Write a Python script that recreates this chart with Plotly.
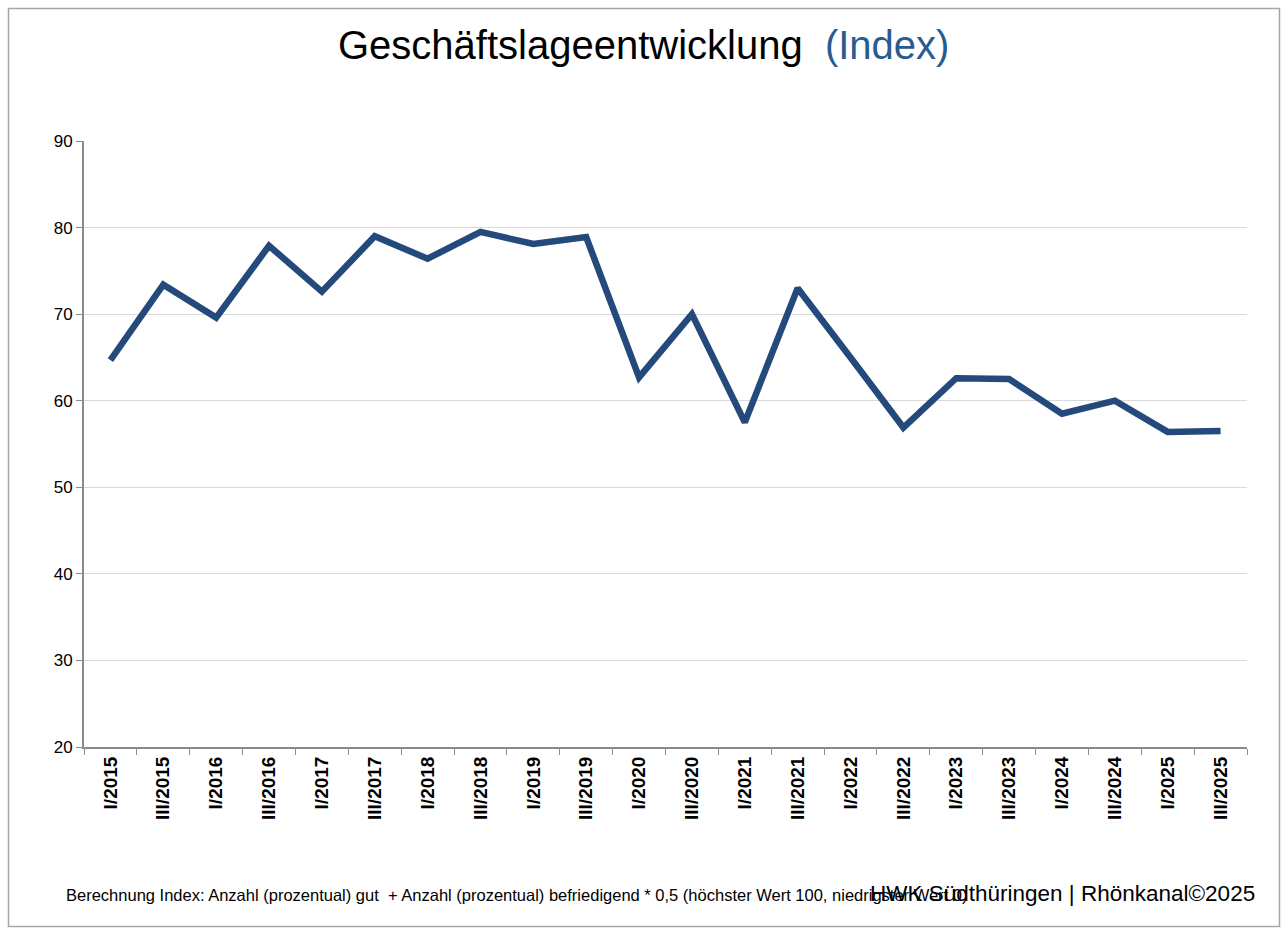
import plotly.graph_objects as go

categories = ["I/2015", "III/2015", "I/2016", "III/2016", "I/2017", "III/2017",
              "I/2018", "III/2018", "I/2019", "III/2019", "I/2020", "III/2020",
              "I/2021", "III/2021", "I/2022", "III/2022", "I/2023", "III/2023",
              "I/2024", "III/2024", "I/2025", "III/2025"]
index_values = [64.7, 73.4, 69.6, 77.9, 72.6, 79.0, 76.4, 79.5, 78.1, 78.9,
                62.7, 70.0, 57.5, 73.0, 65.0, 56.9, 62.6, 62.5, 58.5, 60.0,
                56.4, 56.5]
y_ticks = [20, 30, 40, 50, 60, 70, 80, 90]

# body margin is removed in the page, so screen px == figure px
W, H = 1287, 932
PL, PR, PT, PB = 84, 1247, 141, 747   # plot area in screen px
L, R, T, B = PL, W - PR, PT, H - PB
pw, ph = W - L - R, H - T - B

def px(x):
    return (x - L) / pw

def py(y):
    return (H - B - y) / ph

fig = go.Figure()
fig.add_trace(go.Scatter(
    x=categories, y=index_values, mode="lines",
    line=dict(color="#24497b", width=6.5, shape="linear"),
    hoverinfo="x+y", showlegend=False,
))

fig.update_layout(
    width=W, height=H,
    margin=dict(l=L, r=R, t=T, b=B),
    paper_bgcolor="white", plot_bgcolor="white",
    font=dict(family="Liberation Sans, Arial, sans-serif", color="black"),
    xaxis=dict(
        type="category", tickangle=-90, tickson="boundaries",
        ticks="outside", ticklen=6, tickcolor="#8a8a8a", tickwidth=1,
        showline=True, linecolor="#8a8a8a", linewidth=2,
        showgrid=False,
        tickfont=dict(size=19, family="Liberation Sans, Arial, sans-serif", weight="bold"),
        range=[-0.5, len(categories) - 0.5],
    ),
    yaxis=dict(
        range=[20, 90], tickvals=y_ticks,
        ticks="outside", ticklen=6, tickcolor="#8a8a8a",
        showline=True, linecolor="#8a8a8a", linewidth=2,
        showgrid=True, gridcolor="#d9d9d9", gridwidth=1,
        zeroline=False,
        tickfont=dict(size=17),
    ),
    shapes=[dict(
        type="rect", xref="paper", yref="paper",
        x0=px(8.5), x1=px(1279.5), y0=py(926.5), y1=py(8.5),
        line=dict(color="#a6a6a6", width=1.5), fillcolor="rgba(0,0,0,0)",
        layer="below",
    )],
    annotations=[
        dict(
            text="Geschäftslageentwicklung  <span style='color:#2a5b8f'>(Index)</span>",
            xref="paper", yref="paper", x=px(643), y=py(45),
            xanchor="center", yanchor="middle", showarrow=False,
            font=dict(size=40, color="black"),
        ),
        dict(
            text="Berechnung Index: Anzahl (prozentual) gut  + Anzahl (prozentual) befriedigend * 0,5 (höchster Wert 100, niedrigster Wert 0)",
            xref="paper", yref="paper", x=px(64), y=py(895),
            xanchor="left", yanchor="middle", showarrow=False,
            font=dict(size=16.5, color="black"),
        ),
        dict(
            text="HWK Südthüringen | Rhönkanal©2025",
            xref="paper", yref="paper", x=px(1257), y=py(893),
            xanchor="right", yanchor="middle", showarrow=False,
            font=dict(size=22.5, color="black"),
        ),
    ],
)

fig.write_html(
    "out.html",
    config={"displayModeBar": False},
    post_script="document.body.style.margin='0';document.body.style.overflow='hidden';",
)
